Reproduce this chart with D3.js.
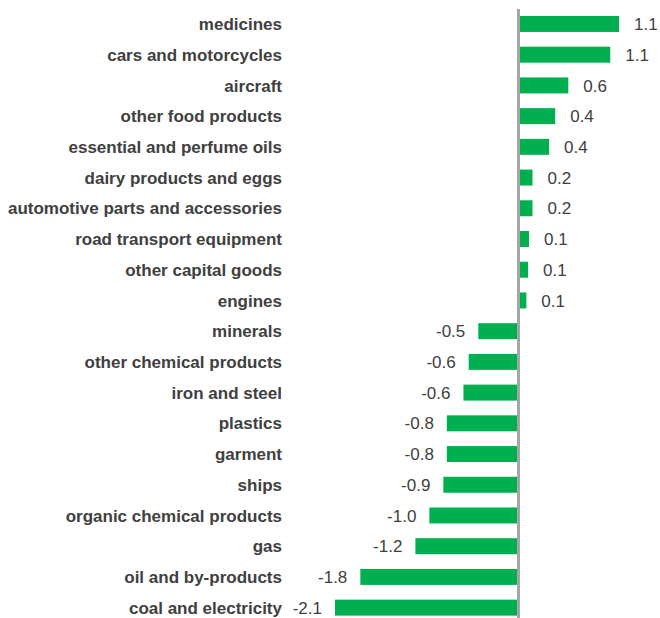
<!DOCTYPE html>
<html>
<head>
<meta charset="utf-8">
<script src="https://cdn.jsdelivr.net/npm/d3@7"></script>
<style>
  body { margin: 0; background: #fff; }
  .cat { font-family: "Liberation Sans", sans-serif; font-weight: bold; font-size: 17px; fill: #404040; }
  .val { font-family: "Liberation Sans", sans-serif; font-size: 17px; fill: #404040; }
</style>
</head>
<body>
<div class="graphContainer"></div>
<script>
var width = 660;
var height = 618;

var categories = [
  "medicines",
  "cars and motorcycles",
  "aircraft",
  "other food products",
  "essential and perfume oils",
  "dairy products and eggs",
  "automotive parts and accessories",
  "road transport equipment",
  "other capital goods",
  "engines",
  "minerals",
  "other chemical products",
  "iron and steel",
  "plastics",
  "garment",
  "ships",
  "organic chemical products",
  "gas",
  "oil and by-products",
  "coal and electricity"
];

var values = [1.15, 1.05, 0.57, 0.42, 0.35, 0.16, 0.16, 0.12, 0.11, 0.09,
  -0.46, -0.57, -0.63, -0.82, -0.82, -0.86, -1.02, -1.18, -1.81, -2.1];

var labels = ["1.1", "1.1", "0.6", "0.4", "0.4", "0.2", "0.2", "0.1", "0.1", "0.1",
  "-0.5", "-0.6", "-0.6", "-0.8", "-0.8", "-0.9", "-1.0", "-1.2", "-1.8", "-2.1"];

var data = categories.map(function (c, i) {
  return { name: c, value: values[i], label: labels[i] };
});

var svg = d3.select(".graphContainer")
  .append("svg")
  .attr("width", width)
  .attr("height", height);

// x scale: zero at the grey axis line
var x = d3.scaleLinear().domain([-2.1, 0]).range([335, 518.5]);

var y = d3.scaleBand()
  .domain(categories)
  .range([8.6, 623])
  .paddingInner(0.48)
  .paddingOuter(0.24);

// bars
svg.selectAll("rect.bar")
  .data(data)
  .enter()
  .append("rect")
  .attr("class", "bar")
  .attr("x", function (d) { return x(Math.min(0, d.value)); })
  .attr("y", function (d) { return y(d.name); })
  .attr("width", function (d) { return Math.abs(x(d.value) - x(0)); })
  .attr("height", y.bandwidth())
  .style("fill", "#00b050");

// value labels
svg.selectAll("text.val")
  .data(data)
  .enter()
  .append("text")
  .attr("class", "val")
  .attr("x", function (d) { return d.value >= 0 ? x(d.value) + 15 : x(d.value) - 13; })
  .attr("y", function (d) { return y(d.name) + y.bandwidth() / 2; })
  .attr("dy", "0.36em")
  .attr("text-anchor", function (d) { return d.value >= 0 ? "start" : "end"; })
  .text(function (d) { return d.label; });

// category labels
svg.selectAll("text.cat")
  .data(data)
  .enter()
  .append("text")
  .attr("class", "cat")
  .attr("x", 282)
  .attr("y", function (d) { return y(d.name) + y.bandwidth() / 2; })
  .attr("dy", "0.36em")
  .attr("text-anchor", "end")
  .text(function (d) { return d.name; });

// vertical zero axis
svg.append("line")
  .attr("x1", x(0))
  .attr("x2", x(0))
  .attr("y1", 9)
  .attr("y2", height)
  .style("stroke", "#a6a6a6")
  .style("stroke-width", 3);
</script>
</body>
</html>
